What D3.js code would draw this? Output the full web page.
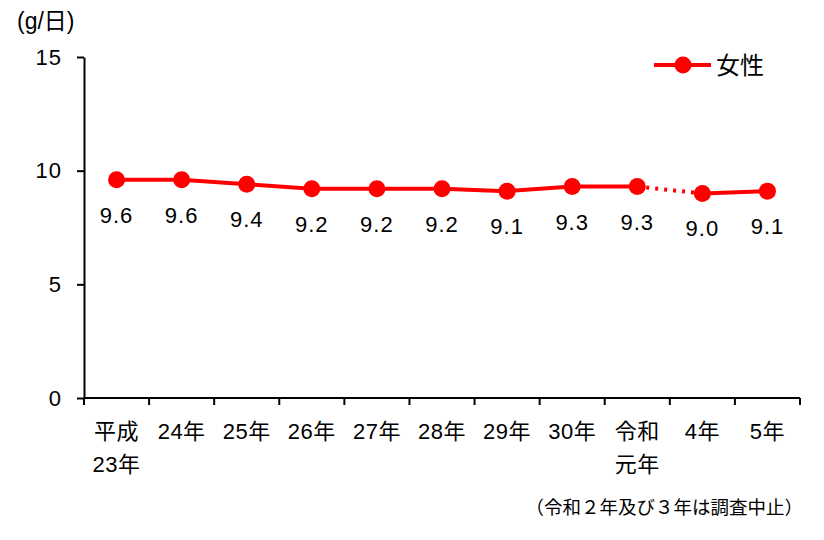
<!DOCTYPE html>
<html><head><meta charset="utf-8">
<script src="https://cdn.jsdelivr.net/npm/d3@7"></script>
<style>
html,body{margin:0;padding:0;background:#fff;}
svg{display:block;font-family:"Liberation Sans",Arial,"Noto Sans CJK JP",sans-serif;}
</style></head>
<body>
<svg id="chart" width="824" height="540"></svg>
<script>
const categories = ["平成\n23年","24年","25年","26年","27年","28年","29年","30年","令和\n元年","4年","5年"];
const values = [9.6, 9.6, 9.4, 9.2, 9.2, 9.2, 9.1, 9.3, 9.3, 9.0, 9.1];
const yTicks = [0, 5, 10, 15];
const seriesName = "女性";
const unitLabel = "(g/日)";
const footnote = "（令和２年及び３年は調査中止）";
const gapAfterIndex = 8; // segment between 令和元年 and 4年 drawn dotted

(function () {
const svg = d3.select("#chart");
const red = "#ff0000";
const mLeft = 84, mRight = 800, mTop = 57, mBottom = 398;

const x = d3.scaleBand().domain(categories).range([mLeft, mRight]);
const y = d3.scaleLinear().domain([0, 15]).range([mBottom, mTop]);

// Y axis
const yAxis = svg.append("g").attr("transform", `translate(${mLeft},0)`)
  .call(d3.axisLeft(y).tickValues(yTicks).tickSize(7).tickPadding(15).tickSizeOuter(0));
yAxis.select(".domain").attr("stroke", "#000").attr("stroke-width", 2);
yAxis.selectAll(".tick line").attr("stroke", "#000").attr("stroke-width", 2);
yAxis.selectAll(".tick text").attr("font-size", 22).attr("fill", "#000")
  .attr("letter-spacing", 1)
  .attr("font-family", "'Liberation Sans',Arial,sans-serif");

// X axis
const xg = svg.append("g");
xg.append("line").attr("x1", mLeft).attr("x2", mRight).attr("y1", mBottom).attr("y2", mBottom)
  .attr("stroke", "#000").attr("stroke-width", 2);
const edges = categories.map(c => x(c)).concat([x.range()[1]]);
xg.selectAll("line.tk").data(edges).join("line").attr("class", "tk")
  .attr("x1", d => d).attr("x2", d => d).attr("y1", mBottom).attr("y2", mBottom + 7)
  .attr("stroke", "#000").attr("stroke-width", 2);
const xl = xg.selectAll("text.xl").data(categories).join("text").attr("class", "xl")
  .attr("x", d => x(d) + x.bandwidth() / 2).attr("y", 439)
  .attr("text-anchor", "middle").attr("font-size", 22).attr("letter-spacing", 0.5).attr("fill", "#000");
xl.each(function(d) {
  const parts = d.split("\n");
  const t = d3.select(this);
  parts.forEach((p, i) => {
    t.append("tspan").attr("x", x(d) + x.bandwidth() / 2).attr("dy", i === 0 ? 0 : 33).text(p);
  });
});

// Line
const pts = values.map((v, i) => [x(categories[i]) + x.bandwidth() / 2, y(v)]);
const line = d3.line();
svg.append("path").attr("d", line(pts.slice(0, gapAfterIndex + 1)))
  .attr("fill", "none").attr("stroke", red).attr("stroke-width", 4).attr("stroke-linejoin", "round");
svg.append("path").attr("d", line(pts.slice(gapAfterIndex + 1)))
  .attr("fill", "none").attr("stroke", red).attr("stroke-width", 4).attr("stroke-linejoin", "round");
svg.append("path").attr("d", line(pts.slice(gapAfterIndex, gapAfterIndex + 2)))
  .attr("fill", "none").attr("stroke", red).attr("stroke-width", 4)
  .attr("stroke-dasharray", "3 6");

svg.selectAll("circle.pt").data(values).join("circle").attr("class", "pt")
  .attr("cx", (d, i) => pts[i][0]).attr("cy", (d, i) => pts[i][1]).attr("r", 8.5).attr("fill", red);

svg.selectAll("text.lbl").data(values).join("text").attr("class", "lbl")
  .attr("x", (d, i) => pts[i][0]).attr("y", (d, i) => pts[i][1] + 43)
  .attr("text-anchor", "middle").attr("font-size", 22).attr("letter-spacing", 1).attr("fill", "#000")
  .text(d => d.toFixed(1));

// Unit label
svg.append("text").attr("x", 17).attr("y", 29).attr("font-size", 23).attr("fill", "#000").text(unitLabel);

// Legend
svg.append("line").attr("x1", 654).attr("x2", 711).attr("y1", 65).attr("y2", 65)
  .attr("stroke", red).attr("stroke-width", 4);
svg.append("circle").attr("cx", 683).attr("cy", 65).attr("r", 8.5).attr("fill", red);
svg.append("text").attr("x", 716).attr("y", 74).attr("font-size", 24).attr("fill", "#000").text(seriesName);

// Footnote
svg.append("text").attr("x", 803).attr("y", 514).attr("text-anchor", "end")
  .attr("font-size", 18.5).attr("fill", "#000").text(footnote);
})();
</script>
</body></html>
